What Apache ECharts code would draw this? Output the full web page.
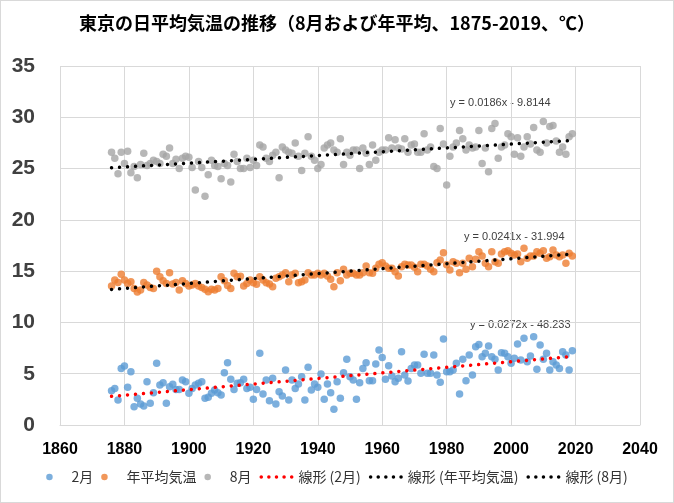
<!DOCTYPE html>
<html><head><meta charset="utf-8">
<script src="https://cdn.jsdelivr.net/npm/echarts@6/dist/echarts.min.js"></script>
<style>
html,body{margin:0;padding:0;background:#fff;}
#frame{position:absolute;left:0;top:0;width:674px;height:503px;box-sizing:border-box;border:1px solid #d9d9d9;}
#chart{position:absolute;left:0;top:0;width:674px;height:503px;}
</style></head><body>
<div id="frame"></div>
<div id="chart"></div>
<script>
// ---- data (1876 .. 2019) ----
const startYear = 1876;
const febValues = [
  3.34, 3.57, 2.44, 5.52,
  5.75, 3.67, 5.2, 1.79, 2.6, 2.05, 1.85, 4.22, 2.11, 3.15,
  6.01, 3.9, 4.12, 2.11, 3.73, 3.98, 3.47, 3.47, 4.39, 4.22,
  3.09, 3.57, 3.9, 4.06, 4.22, 2.6, 2.7, 3.09, 3.41, 3.15,
  2.92, 5.1, 6.07, 4.45, 3.47, 4.06, 4.12, 4.45, 3.57, 3.67,
  2.5, 3.47, 6.99, 3.02, 4.39, 2.37, 4.55, 2.05, 3.25, 2.83,
  5.36, 2.44, 4.39, 3.57, 4.0, 4.71, 2.44, 5.62, 3.41, 4.0,
  3.67, 4.97, 2.5, 4.0, 3.15, 1.53, 4.22, 2.6, 5.1, 6.4,
  4.71, 4.39, 2.5, 4.13, 5.52, 6.07, 4.32, 4.32, 5.94, 7.31,
  6.59, 4.45, 5.78, 4.78, 4.22, 4.55, 7.15, 4.88, 4.29, 5.52,
  5.85, 5.85, 5.04, 6.89, 5.04, 5.04, 6.82, 4.88, 4.16, 8.38,
  5.2, 5.2, 5.36, 6.01, 3.02, 6.4, 4.32, 6.82, 4.88, 7.64,
  7.86, 6.66, 6.99, 7.7, 6.66, 6.4, 5.36, 7.05, 6.99, 6.66,
  6.01, 6.5, 7.9, 6.33, 8.45, 6.17, 6.73, 8.61, 5.43, 7.8,
  6.4, 6.99, 5.36, 6.17, 5.85, 5.52, 7.15, 6.82, 5.36, 7.25
];
const annualValues = [
  13.55, 14.14, 13.9, 14.7,
  14.14, 13.8, 13.97, 13.3, 12.97, 13.16, 13.9, 13.65, 13.4, 13.3,
  15.0, 14.46, 14.07, 13.8, 14.85, 13.75, 13.9, 13.16, 14.07, 13.8,
  13.55, 13.65, 13.8, 13.55, 13.4, 13.23, 13.0, 13.23, 13.16, 13.3,
  14.46, 14.07, 13.6, 13.3, 14.8, 14.46, 14.5, 13.55, 13.8, 14.14,
  13.88, 13.72, 14.46, 14.14, 13.88, 13.75, 13.49, 14.3, 14.46, 14.62,
  14.85, 13.97, 14.62, 14.79, 13.88, 13.97, 14.14, 14.85, 14.62, 14.62,
  14.79, 14.62, 14.79, 14.52, 14.2, 13.49, 14.85, 14.07, 15.18, 14.62,
  14.79, 14.79, 14.62, 14.62, 14.85, 15.5, 14.85, 14.79, 15.27, 15.66,
  15.83, 15.5, 15.27, 15.27, 14.95, 14.52, 15.43, 15.66, 15.6, 15.6,
  15.37, 14.95, 15.66, 15.66, 15.5, 15.18, 14.95, 15.83, 16.08, 16.8,
  15.62, 15.11, 15.92, 15.76, 14.85, 15.76, 15.18, 16.25, 15.43, 16.15,
  16.9, 16.47, 15.76, 15.43, 16.9, 15.92, 15.76, 16.67, 16.9, 17.0,
  16.74, 16.57, 16.67, 15.92, 17.22, 16.25, 16.47, 16.47, 16.9, 16.74,
  17.0, 16.25, 16.41, 17.06, 16.57, 16.41, 16.57, 15.76, 16.74, 16.47
];
const augValues = [
  26.6, 26.0, 24.5, 26.6,
  25.5, 26.7, 24.6, 25.2, 24.1, 25.4, 26.5, 25.3, 25.5, 25.8,
  25.7, 25.5, 26.4, 26.2, 27.0, 25.5, 25.9, 25.0, 26.0, 26.2,
  26.1, 25.1, 22.9, 25.7, 25.1, 22.3, 24.4, 25.8, 25.3, 25.2,
  24.0, 25.5, 25.3, 23.7, 26.4, 25.7, 25.0, 25.0, 26.0, 25.1,
  25.8, 25.3, 27.3, 27.1, 26.0, 25.7, 26.3, 26.6, 24.1, 27.1,
  26.8, 26.6, 26.5, 27.5, 26.2, 24.8, 26.5, 28.1, 26.2, 25.8,
  25.0, 25.4, 27.0, 27.3, 27.5, 26.8, 26.6, 27.9, 25.4, 26.6,
  26.3, 26.8, 26.8, 25.0, 27.0, 26.5, 25.4, 27.3, 25.8, 26.6,
  26.8, 26.8, 28.0, 27.0, 27.8, 27.0, 26.9, 27.9, 26.6, 27.3,
  27.4, 26.6, 26.6, 28.4, 26.8, 27.1, 25.2, 25.0, 28.9, 27.4,
  23.4, 26.2, 27.1, 27.5, 28.7, 27.9, 26.8, 27.3, 27.0, 27.1,
  28.7, 25.5, 27.0, 24.7, 28.9, 29.4, 26.0, 27.1, 27.3, 28.4,
  28.1, 26.4, 28.0, 26.2, 27.1, 28.1, 27.4, 29.0, 26.8, 26.6,
  29.6, 27.5, 29.1, 29.2, 27.7, 26.6, 27.1, 26.4, 28.1, 28.4
];
// linear trend coefficients [slope, intercept] as printed on the chart
const trendFeb = [0.0272, -48.233];
const trendAnnual = [0.0241, -31.994];
const trendAug = [0.0186, -9.8144];
const trendRange = [1876, 2019];
const seriesNames = ['2月', '年平均気温', '8月', '線形 (2月)', '線形 (年平均気温)', '線形 (8月)'];
const eqLabels = ['y = 0.0272x - 48.233', 'y = 0.0241x - 31.994', 'y = 0.0186x - 9.8144'];
const xAxisTicks = [1860, 2040, 20];
const yAxisTicks = [0, 35, 5];
const titleText = '東京の日平均気温の推移（8月および年平均、1875-2019、℃）';

// ---- build ----
const toPairs = arr => arr.map((v, i) => [startYear + i, v]);
const trendPairs = c => trendRange.map(x => [x, c[0] * x + c[1]]);
const FONT = '"Liberation Sans", "Noto Sans CJK JP", sans-serif';
const dotLine = color => ({ color: color, width: 3.5, type: [0.01, 8], cap: 'round' });
// legend icon: five round dots, like a dotted trendline sample
const dotsIcon = 'path://' + [2, 9.5, 17, 24.5, 32].map(cx =>
  'M' + (cx - 1.75) + ',3.5 a1.75,1.75 0 1,0 3.5,0 a1.75,1.75 0 1,0 -3.5,0 Z').join(' ');

const chart = echarts.init(document.getElementById('chart'), null, { renderer: 'canvas' });
chart.setOption({
  animation: false,
  backgroundColor: 'transparent',
  title: {
    text: titleText, left: 'center', top: 14, padding: 0,
    textStyle: { fontSize: 18, fontWeight: 'bold', color: '#000', fontFamily: '"Noto Sans CJK JP", sans-serif' }
  },
  grid: { left: 60, right: 34, top: 66, bottom: 78, containLabel: false },
  xAxis: {
    type: 'value', min: xAxisTicks[0], max: xAxisTicks[1], interval: xAxisTicks[2],
    axisLine: { show: true, lineStyle: { color: '#d9d9d9' } },
    axisTick: { show: false },
    splitLine: { show: true, lineStyle: { color: '#d9d9d9', width: 1 } },
    axisLabel: { fontSize: 16, fontWeight: 'bold', color: '#000', margin: 17, fontFamily: FONT,
      formatter: v => String(v) }
  },
  yAxis: {
    type: 'value', min: yAxisTicks[0], max: yAxisTicks[1], interval: yAxisTicks[2],
    axisLine: { show: false }, axisTick: { show: false },
    splitLine: { show: true, lineStyle: { color: '#d9d9d9', width: 1 } },
    axisLabel: { fontSize: 21, fontWeight: 'bold', color: '#404040', margin: 25, fontFamily: FONT }
  },
  legend: {
    left: 'center', top: 465, itemWidth: 34, itemHeight: 6.5, itemGap: 8,
    textStyle: { fontSize: 14, color: '#333333', fontFamily: '"Noto Sans CJK JP", sans-serif' },
    data: [
      { name: seriesNames[0], icon: 'circle' },
      { name: seriesNames[1], icon: 'circle' },
      { name: seriesNames[2], icon: 'circle' },
      { name: seriesNames[3], icon: dotsIcon },
      { name: seriesNames[4], icon: dotsIcon },
      { name: seriesNames[5], icon: dotsIcon }
    ]
  },
  series: [
    { name: seriesNames[0], type: 'scatter', symbolSize: 7.5, itemStyle: { color: '#5B9BD5' }, data: toPairs(febValues) },
    { name: seriesNames[1], type: 'scatter', symbolSize: 7.5, itemStyle: { color: '#ED7D31' }, data: toPairs(annualValues) },
    { name: seriesNames[2], type: 'scatter', symbolSize: 7.5, itemStyle: { color: '#A5A5A5' }, data: toPairs(augValues) },
    { name: seriesNames[3], type: 'line', symbol: 'none', z: 5, lineStyle: dotLine('#FF0000'), itemStyle: { color: '#FF0000' }, data: trendPairs(trendFeb) },
    { name: seriesNames[4], type: 'line', symbol: 'none', z: 5, lineStyle: dotLine('#000000'), itemStyle: { color: '#000000' }, data: trendPairs(trendAnnual) },
    { name: seriesNames[5], type: 'line', symbol: 'none', z: 5, lineStyle: dotLine('#000000'), itemStyle: { color: '#000000' }, data: trendPairs(trendAug) }
  ],
  graphic: [
    { type: 'text', left: 470, top: 319, style: { text: eqLabels[0], fontSize: 11, fill: '#404040', fontFamily: FONT } },
    { type: 'text', left: 464, top: 231, style: { text: eqLabels[1], fontSize: 11, fill: '#404040', fontFamily: FONT } },
    { type: 'text', left: 450, top: 97, style: { text: eqLabels[2], fontSize: 11, fill: '#404040', fontFamily: FONT } }
  ]
});
</script>
</body></html>
